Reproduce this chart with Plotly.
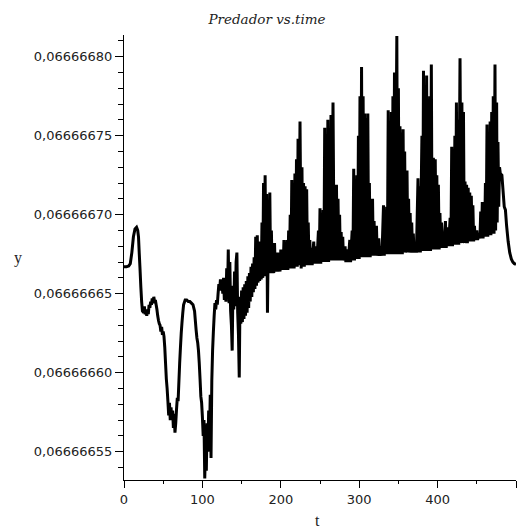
import plotly.graph_objects as go

# Predator population (y) against time (t)
t = [
    0, 3, 6, 8, 10, 12, 14, 16, 17.5, 18.5, 19.5, 20.5, 21.5, 22.5, 23.5, 25, 26, 27, 28, 29,
    30, 31, 32, 33, 34, 35, 36, 37, 38, 39, 40, 41, 42, 43, 44, 45, 46, 47, 48, 49,
    50, 51, 52, 53, 54, 55, 56, 57, 58, 59, 60, 61, 62, 63, 64, 65, 66, 67, 68, 69,
    70, 71, 72, 73, 74, 75, 76, 78, 80, 82, 84, 86, 88, 90, 91, 92, 93, 94, 95, 96,
    97, 98, 99, 100, 101, 102, 103, 104, 105, 106, 107, 108, 109, 110, 111, 112, 113, 114, 115, 116,
    117, 118, 119, 120, 121, 122, 123, 124, 125,
    126, 127, 128, 129, 130, 131, 132, 133, 134, 135, 136, 137, 138, 139, 140, 141, 142, 143, 144, 145,
    146, 147, 148, 149, 150, 151, 152, 153, 154, 155, 156, 157, 158, 159, 160, 161, 162, 163, 164, 165,
    166, 167, 168, 169, 170, 171, 172, 173, 174, 175, 176, 177, 178, 179, 180, 181, 182, 183,
    184, 185, 186, 187, 188, 189, 190, 191, 192, 193, 194, 195, 196, 197, 198, 199, 200, 201, 202, 203,
    204, 205, 206, 207, 208, 209, 210, 211, 212, 213, 214, 215, 216, 217,
    218, 219, 220, 221, 222, 223, 224.5, 226, 227, 228, 229, 230, 231, 232, 233, 234, 235, 236, 237, 238,
    239, 240, 242, 243, 245, 246, 248, 249, 250, 251, 252, 253, 254, 255, 256, 257, 258, 259, 260, 261,
    262, 263, 264, 265, 266.6, 268, 269, 270, 271, 272, 273, 274, 275, 276, 277, 278, 279, 280, 282, 283,
    285, 286, 288, 289, 291, 292, 293, 294, 295, 296, 297, 298, 299, 300, 301, 302, 303, 304, 305, 306,
    307, 308, 309, 310, 311, 312, 313, 314, 315, 316, 317, 318, 319, 320, 322, 323, 325, 326, 328, 329,
    331, 332, 333, 334, 335, 336, 337, 338, 339, 340, 341, 342, 343, 344, 345, 346, 348, 349, 350, 351,
    352, 353, 354, 355, 356, 357, 358, 359, 361, 362, 363, 364, 365, 366, 367, 368, 369, 370, 372, 373,
    375, 376, 377, 378, 380, 381, 382, 383, 384, 385, 386, 387, 388, 389, 390, 391, 392, 393, 394.6, 396,
    397, 398, 399, 400, 401, 402, 403, 404, 405, 406, 407, 408, 410, 411, 413, 414, 416, 417, 418, 419,
    420, 421, 422, 423, 424, 425, 426, 427, 428.6, 430, 431, 432, 433, 434, 435, 436, 437, 438, 439, 440,
    441, 442, 443, 444, 445, 446, 447, 448, 450, 451, 453, 454, 455, 456, 457, 458, 459, 460, 461, 462,
    463, 464, 465, 466, 467, 468, 469, 470, 471, 472, 473.2, 474, 475.3, 476, 477, 478, 479,
    480, 482, 483.5, 485, 486.5, 488, 490, 492, 494, 496, 498, 500,
]

y = [
    0.0666666670, 0.0666666670, 0.0666666675, 0.0666666690, 0.0666666760, 0.0666666860, 0.0666666910, 0.0666666920, 0.0666666900, 0.0666666860,
    0.0666666750, 0.0666666650, 0.0666666540, 0.0666666450, 0.0666666390, 0.0666666380, 0.0666666420, 0.0666666370, 0.0666666400, 0.0666666360,
    0.0666666400, 0.0666666370, 0.0666666430, 0.0666666410, 0.0666666450, 0.0666666430, 0.0666666470, 0.0666666440, 0.0666666480, 0.0666666450,
    0.0666666460, 0.0666666430, 0.0666666400, 0.0666666360, 0.0666666330, 0.0666666310, 0.0666666300, 0.0666666260, 0.0666666290, 0.0666666240,
    0.0666666260, 0.0666666230, 0.0666666160, 0.0666666060, 0.0666665960, 0.0666665900, 0.0666665820, 0.0666665730, 0.0666665810, 0.0666665700,
    0.0666665780, 0.0666665710, 0.0666665760, 0.0666665650, 0.0666665740, 0.0666665620, 0.0666665680, 0.0666665770, 0.0666665840, 0.0666665820,
    0.0666665940, 0.0666666060, 0.0666666160, 0.0666666250, 0.0666666320, 0.0666666380, 0.0666666430, 0.0666666460, 0.0666666460, 0.0666666450,
    0.0666666450, 0.0666666440, 0.0666666430, 0.0666666390, 0.0666666330, 0.0666666270, 0.0666666220, 0.0666666190, 0.0666666140, 0.0666666060,
    0.0666665960, 0.0666665850, 0.0666665810, 0.0666665720, 0.0666665600, 0.0666665700, 0.0666665330, 0.0666665550, 0.0666665380, 0.0666665680,
    0.0666665500, 0.0666665760, 0.0666665570, 0.0666665860, 0.0666665460, 0.0666665950, 0.0666666140, 0.0666666260, 0.0666666360, 0.0666666440,
    0.0666666400, 0.0666666460, 0.0666666430, 0.0666666500, 0.0666666560, 0.0666666520, 0.0666666590, 0.0666666540, 0.0666666580,
    0.0666666500, 0.0666666600, 0.0666666460, 0.0666666590, 0.0666666450, 0.0666666660, 0.0666666480, 0.0666666780, 0.0666666440, 0.0666666700,
    0.0666666390, 0.0666666300, 0.0666666140, 0.0666666550, 0.0666666400, 0.0666666640, 0.0666666420, 0.0666666700, 0.0666666760, 0.0666666380,
    0.0666666240, 0.0666665970, 0.0666666480, 0.0666666310, 0.0666666520, 0.0666666320, 0.0666666540, 0.0666666340, 0.0666666560, 0.0666666360,
    0.0666666580, 0.0666666380, 0.0666666610, 0.0666666410, 0.0666666630, 0.0666666450, 0.0666666670, 0.0666666480, 0.0666666690, 0.0666666510,
    0.0666666730, 0.0666666530, 0.0666666860, 0.0666666550, 0.0666666870, 0.0666666570, 0.0666666830, 0.0666666580, 0.0666666760, 0.0666666590,
    0.0666666950, 0.0666666600, 0.0666667200, 0.0666666610, 0.0666667250, 0.0666666620, 0.0666667130, 0.0666666380,
    0.0666666850, 0.0666666630, 0.0666667140, 0.0666666630, 0.0666666900, 0.0666666630, 0.0666666780, 0.0666666630, 0.0666666820, 0.0666666640,
    0.0666666710, 0.0666666640, 0.0666666760, 0.0666666640, 0.0666666730, 0.0666666640, 0.0666666780, 0.0666666650, 0.0666666750, 0.0666666650,
    0.0666666840, 0.0666666650, 0.0666666800, 0.0666666650, 0.0666666840, 0.0666666650, 0.0666666900, 0.0666666660, 0.0666667000, 0.0666666660,
    0.0666667220, 0.0666666660, 0.0666667100, 0.0666666660,
    0.0666667260, 0.0666666670, 0.0666667350, 0.0666666670, 0.0666667480, 0.0666666680, 0.0666667590, 0.0666666660, 0.0666667300, 0.0666666670,
    0.0666667200, 0.0666666670, 0.0666667180, 0.0666666680, 0.0666667160, 0.0666666680, 0.0666666950, 0.0666666680, 0.0666666840, 0.0666666680,
    0.0666666790, 0.0666666680, 0.0666666830, 0.0666666690, 0.0666666800, 0.0666666690, 0.0666666900, 0.0666666690, 0.0666667040, 0.0666666690,
    0.0666666980, 0.0666666700, 0.0666667030, 0.0666666700, 0.0666667550, 0.0666666700, 0.0666667420, 0.0666666700, 0.0666667600, 0.0666666700,
    0.0666667520, 0.0666666710, 0.0666667630, 0.0666666710, 0.0666667710, 0.0666666710, 0.0666667140, 0.0666666710, 0.0666667190, 0.0666666710,
    0.0666667100, 0.0666666710, 0.0666667000, 0.0666666710, 0.0666666890, 0.0666666710, 0.0666666860, 0.0666666710, 0.0666666800, 0.0666666700,
    0.0666666780, 0.0666666700, 0.0666666840, 0.0666666700, 0.0666666900, 0.0666666710, 0.0666667290, 0.0666666710, 0.0666667180, 0.0666666720,
    0.0666667250, 0.0666666720, 0.0666667500, 0.0666666720, 0.0666667750, 0.0666666730, 0.0666667935, 0.0666666730, 0.0666667750, 0.0666666730,
    0.0666667640, 0.0666666730, 0.0666667610, 0.0666666730, 0.0666667640, 0.0666666730, 0.0666667200, 0.0666666730, 0.0666667060, 0.0666666740,
    0.0666667100, 0.0666666740, 0.0666666960, 0.0666666740, 0.0666666930, 0.0666666740, 0.0666666850, 0.0666666740, 0.0666666800, 0.0666666740,
    0.0666667060, 0.0666666740, 0.0666667020, 0.0666666750, 0.0666667050, 0.0666666750, 0.0666667660, 0.0666666750, 0.0666667550, 0.0666666750,
    0.0666667650, 0.0666666750, 0.0666667750, 0.0666666750, 0.0666667900, 0.0666666750, 0.0666668130, 0.0666666750, 0.0666667800, 0.0666666750,
    0.0666667560, 0.0666666750, 0.0666667520, 0.0666666750, 0.0666667540, 0.0666666760, 0.0666667400, 0.0666666760, 0.0666667280, 0.0666666760,
    0.0666667100, 0.0666666760, 0.0666667010, 0.0666666760, 0.0666666950, 0.0666666760, 0.0666666880, 0.0666666760, 0.0666666820, 0.0666666760,
    0.0666667230, 0.0666666760, 0.0666667180, 0.0666666760, 0.0666667500, 0.0666666770, 0.0666667910, 0.0666666770, 0.0666667700, 0.0666666770,
    0.0666667880, 0.0666666770, 0.0666667240, 0.0666666770, 0.0666667750, 0.0666666770, 0.0666667950, 0.0666666780, 0.0666667360, 0.0666666780,
    0.0666667350, 0.0666666780, 0.0666667250, 0.0666666780, 0.0666667190, 0.0666666780, 0.0666667010, 0.0666666790, 0.0666666950, 0.0666666790,
    0.0666666880, 0.0666666790, 0.0666666960, 0.0666666790, 0.0666666920, 0.0666666800, 0.0666666980, 0.0666666800, 0.0666667430, 0.0666666800,
    0.0666667300, 0.0666666810, 0.0666667500, 0.0666666810, 0.0666667710, 0.0666666810, 0.0666667600, 0.0666666810, 0.0666667990, 0.0666666820,
    0.0666667710, 0.0666666820, 0.0666667650, 0.0666666820, 0.0666667210, 0.0666666820, 0.0666667190, 0.0666666820, 0.0666667170, 0.0666666830,
    0.0666667140, 0.0666666830, 0.0666667120, 0.0666666830, 0.0666667060, 0.0666666830, 0.0666666930, 0.0666666840, 0.0666666900, 0.0666666840,
    0.0666666880, 0.0666666850, 0.0666667020, 0.0666666850, 0.0666667080, 0.0666666850, 0.0666667000, 0.0666666860, 0.0666667200, 0.0666666860,
    0.0666667570, 0.0666666860, 0.0666667450, 0.0666666870, 0.0666667590, 0.0666666870, 0.0666667650, 0.0666666880, 0.0666667750, 0.0666666880,
    0.0666667950, 0.0666666900, 0.0666667710, 0.0666666950, 0.0666667460, 0.0666667050, 0.0666667300,
    0.0666667260, 0.0666667250, 0.0666667150, 0.0666667050, 0.0666667030, 0.0666666930, 0.0666666830, 0.0666666760, 0.0666666720, 0.0666666700,
    0.0666666690, 0.0666666685,
]

T_TICKS = [0, 100, 200, 300, 400, 500]
Y_TICKS = [0.06666655, 0.06666660, 0.06666665, 0.06666670, 0.06666675, 0.06666680]
TITLE = "Predador vs.time"
X_LABEL = "t"
Y_LABEL = "y"

fig = go.Figure(
    go.Scatter(
        x=t, y=y, mode="lines",
        line=dict(color="black", width=3, simplify=False),
        hoverinfo="skip",
    )
)

tick_font = dict(family="DejaVu Sans", size=13, color="#222222")
label_font = dict(family="Liberation Serif", size=16, color="#222222")

fig.update_layout(
    width=526, height=529,
    margin=dict(l=124, r=10, t=35, b=49),
    paper_bgcolor="white", plot_bgcolor="white",
    showlegend=False,
    separators=",.",
    title=dict(
        text=TITLE, xref="container", yref="container",
        x=267 / 526, y=1 - 19 / 529, xanchor="center", yanchor="middle",
        font=dict(family="DejaVu Serif", size=13.5, style="italic", color="#222222"),
    ),
    annotations=[
        dict(text=Y_LABEL, xref="paper", yref="paper", x=-0.27, y=0.5,
             xanchor="center", yanchor="middle", showarrow=False, font=label_font),
        dict(text=X_LABEL, xref="paper", yref="paper", x=0.493, y=-0.092,
             xanchor="center", yanchor="middle", showarrow=False, font=label_font),
    ],
)

fig.update_xaxes(
    range=[0, 500], tickmode="array", tickvals=T_TICKS,
    ticks="outside", ticklen=7, tickwidth=1, tickcolor="black",
    showline=True, linecolor="black", linewidth=1,
    showgrid=False, zeroline=False, tickfont=tick_font,
    minor=dict(ticks="outside", ticklen=3, tickwidth=1, tickcolor="black",
               tick0=0, dtick=50, showgrid=False),
)

fig.update_yaxes(
    range=[0.0666665321, 0.0666668137], tickmode="array", tickvals=Y_TICKS,
    tickformat=".8f",
    ticks="outside", ticklen=8, tickwidth=1, tickcolor="black",
    showline=True, linecolor="black", linewidth=1,
    showgrid=False, zeroline=False, tickfont=tick_font,
    minor=dict(ticks="outside", ticklen=5, tickwidth=1, tickcolor="black",
               tick0=0.0666666, dtick=1e-8, showgrid=False),
)

fig.write_html("out.html")
